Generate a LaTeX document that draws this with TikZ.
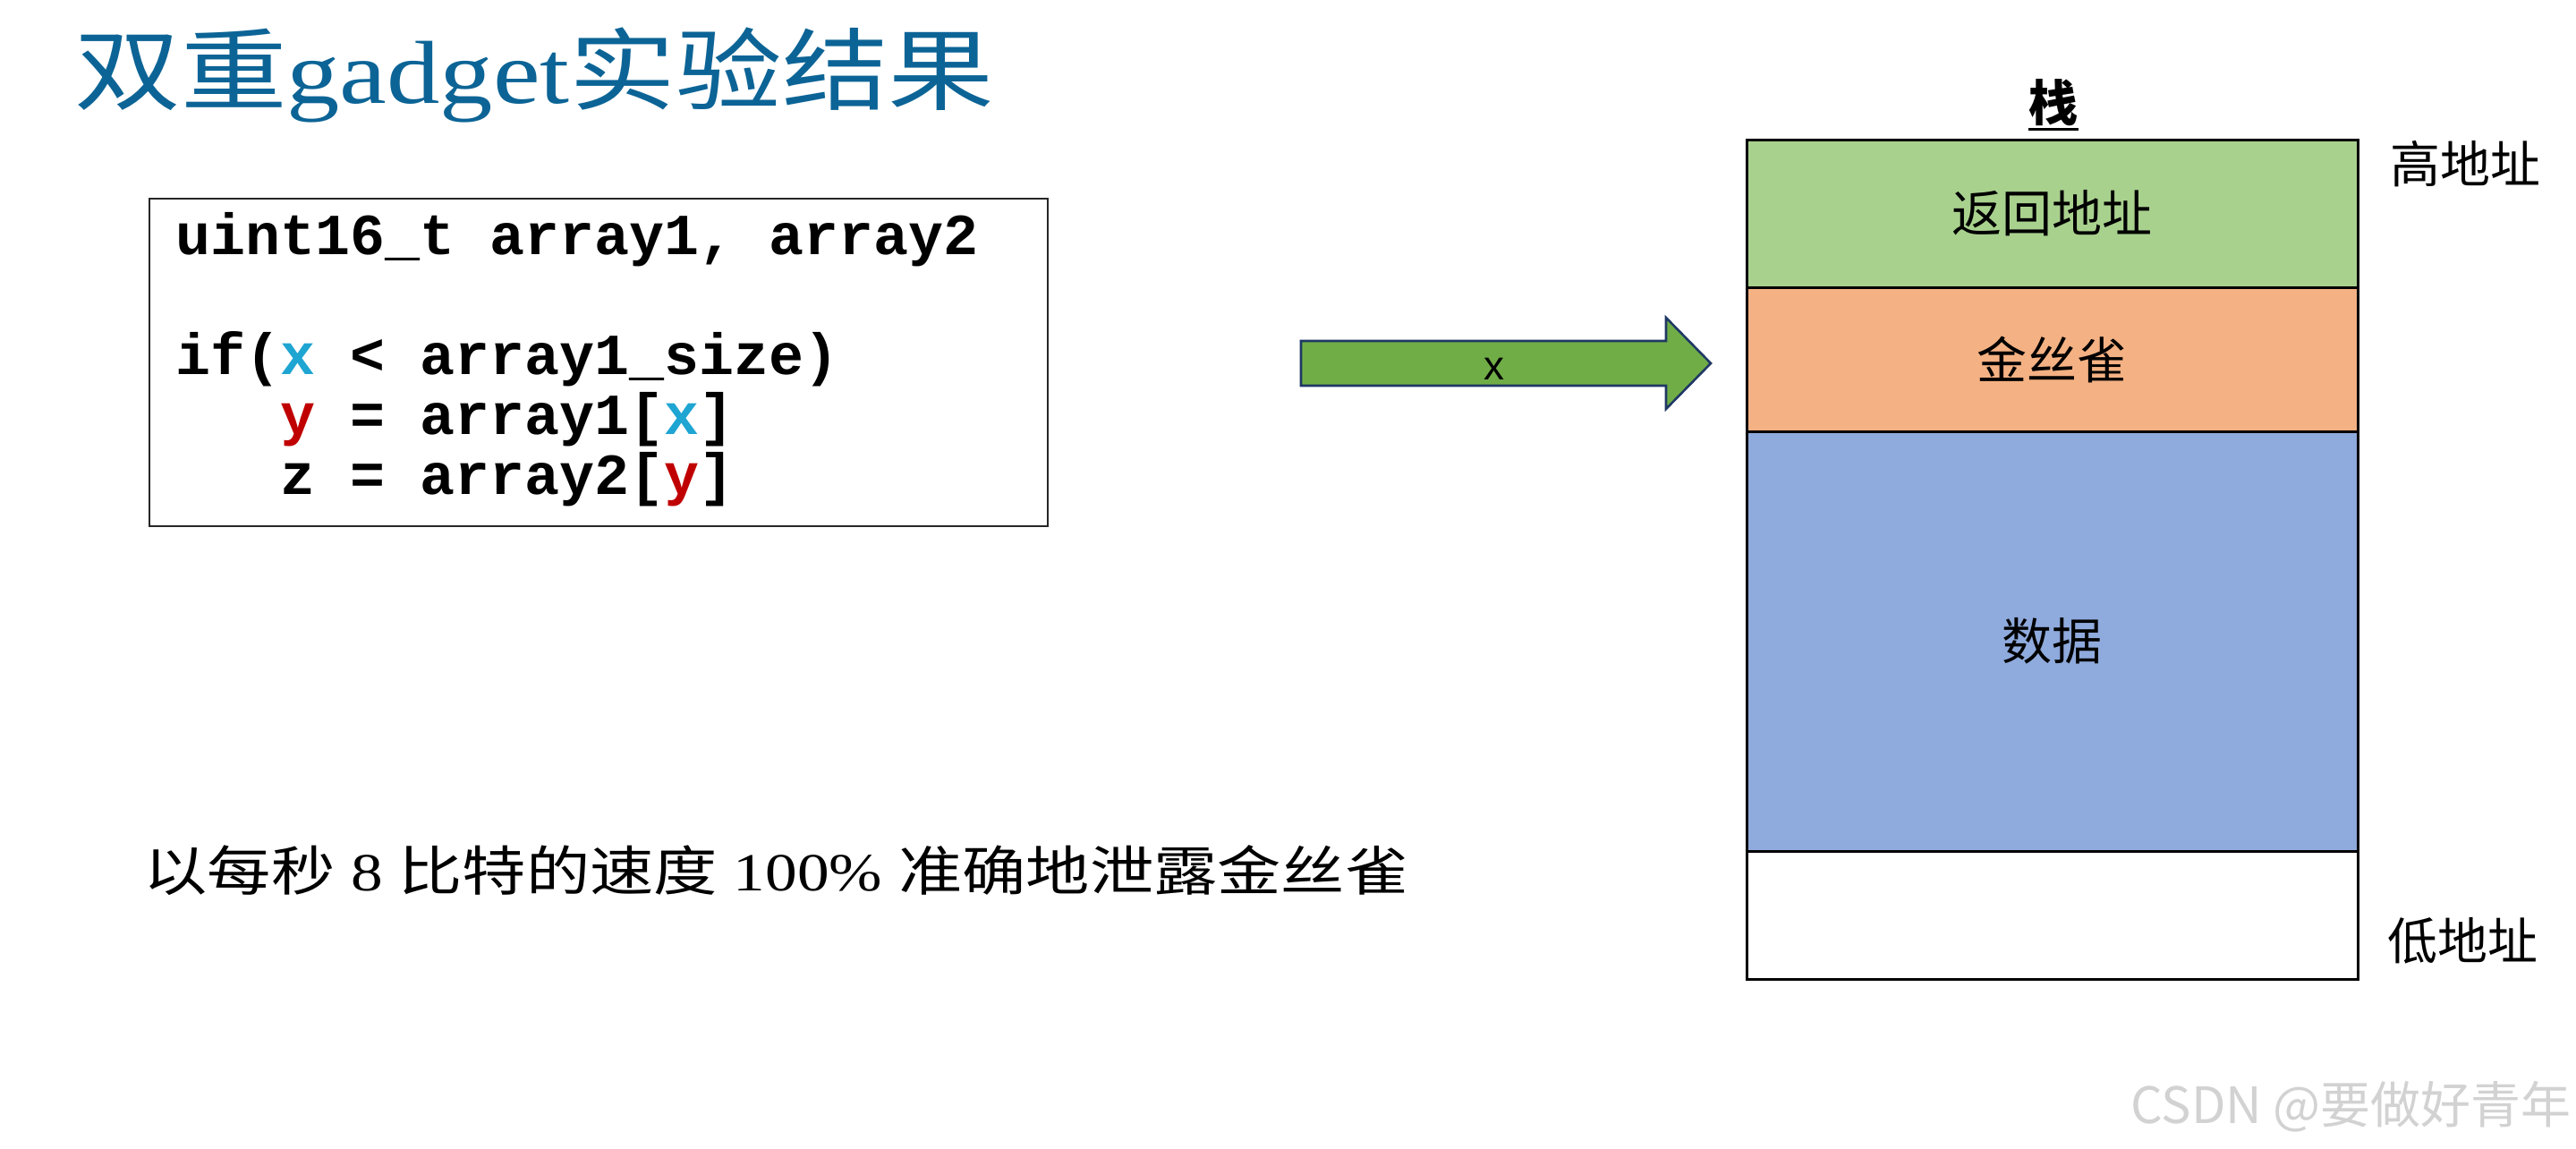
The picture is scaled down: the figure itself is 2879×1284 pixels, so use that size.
\documentclass[tikz,border=0pt]{standalone}
\usepackage{fontspec}
\setmainfont{Liberation Serif}
\setsansfont{Liberation Sans}
\setmonofont{Liberation Mono}
\newfontfamily\cjk{Noto Sans CJK SC}
\definecolor{titleblue}{RGB}{12,100,150}
\definecolor{xcyan}{RGB}{30,165,210}
\definecolor{yred}{RGB}{192,0,0}
\definecolor{arrowgreen}{RGB}{112,173,71}
\definecolor{arrownavy}{RGB}{31,56,100}
\definecolor{retgreen}{RGB}{169,209,142}
\definecolor{canorange}{RGB}{244,177,131}
\definecolor{datablue}{RGB}{143,170,220}
\definecolor{wmgray}{RGB}{210,210,210}
\begin{document}
\begin{tikzpicture}[x=0.5pt,y=-0.5pt,
  codeline/.style={anchor=base west, inner sep=0pt, font=\fontsize{32.5}{33.5}\selectfont\ttfamily\bfseries},
  stackcell/.style={draw=black, line width=1.5pt, minimum width=341.5pt, inner sep=0pt, outer sep=0pt, anchor=north west, font=\fontsize{28}{30}\selectfont\cjk},
  sidelabel/.style={anchor=west, inner sep=0pt, font=\fontsize{28}{30}\selectfont\cjk},
  blockarrow/.style={fill=arrowgreen, draw=arrownavy, line width=1.3pt, line join=miter}
]
\useasboundingbox (0,0) rectangle (2879,1284);
\fill[white] (0,0) rectangle (2879,1284);

% title
\node[anchor=base west, inner sep=0pt, text=titleblue] (title) at (83,115)
  {\resizebox{514pt}{\height}{\fontsize{50}{50}\selectfont{\cjk 双重}gadget{\cjk 实验结果}}};

% code box
\node[draw=black!85, line width=1pt, minimum width=502pt, minimum height=183pt, anchor=north west, inner sep=0pt, outer sep=0pt] (codebox) at (167,222) {};
\node[codeline] (c1) at (196,284) {uint16\_t array1, array2};
\node[codeline] (c2) at (196,418) {if({\color{xcyan}x} < array1\_size)};
\node[codeline] (c3) at (196,485) {\ \ \ {\color{yred}y} = array1[{\color{xcyan}x}]};
\node[codeline] (c4) at (196,552) {\ \ \ z = array2[{\color{yred}y}]};

% arrow
\filldraw[blockarrow] (1454,381) -- (1862,381) -- (1862,355) -- (1912,406) -- (1862,457) -- (1862,431) -- (1454,431) -- cycle;
\node[inner sep=0pt, font=\sffamily\fontsize{23}{23}\selectfont] (xlabel) at (1670,412) {x};

% stack
\node[inner sep=0pt, font=\fontsize{27.5}{28}\selectfont\cjk\bfseries] (zhan) at (2295,115) {栈};
\draw[line width=1.2pt] ([yshift=-1.5pt]zhan.south west) -- ([yshift=-1.5pt]zhan.south east);
\node[stackcell, fill=retgreen, minimum height=82.5pt] (ret) at (1952,156) {返回地址};
\node[stackcell, fill=canorange, minimum height=80.5pt] (canary) at (ret.south west) {金丝雀};
\node[stackcell, fill=datablue, minimum height=234.5pt] (data) at (canary.south west) {数据};
\node[stackcell, fill=white, minimum height=71.5pt] (empty) at (data.south west) {};
\node[sidelabel] (high) at (2671,183) {高地址};
\node[sidelabel] (low) at (2668,1051) {低地址};

% bottom text
\node[anchor=west, inner sep=0pt] (result) at (160,973)
  {\resizebox{707pt}{\height}{\fontsize{30}{32}\selectfont{\cjk 以每秒} 8 {\cjk 比特的速度} 100\% {\cjk 准确地泄露金丝雀}}};

% watermark
\node[anchor=east, inner sep=0pt, text=wmgray, font=\fontsize{28}{30}\selectfont\cjk] (wm) at (2874,1237) {CSDN @要做好青年};
\end{tikzpicture}
\end{document}
